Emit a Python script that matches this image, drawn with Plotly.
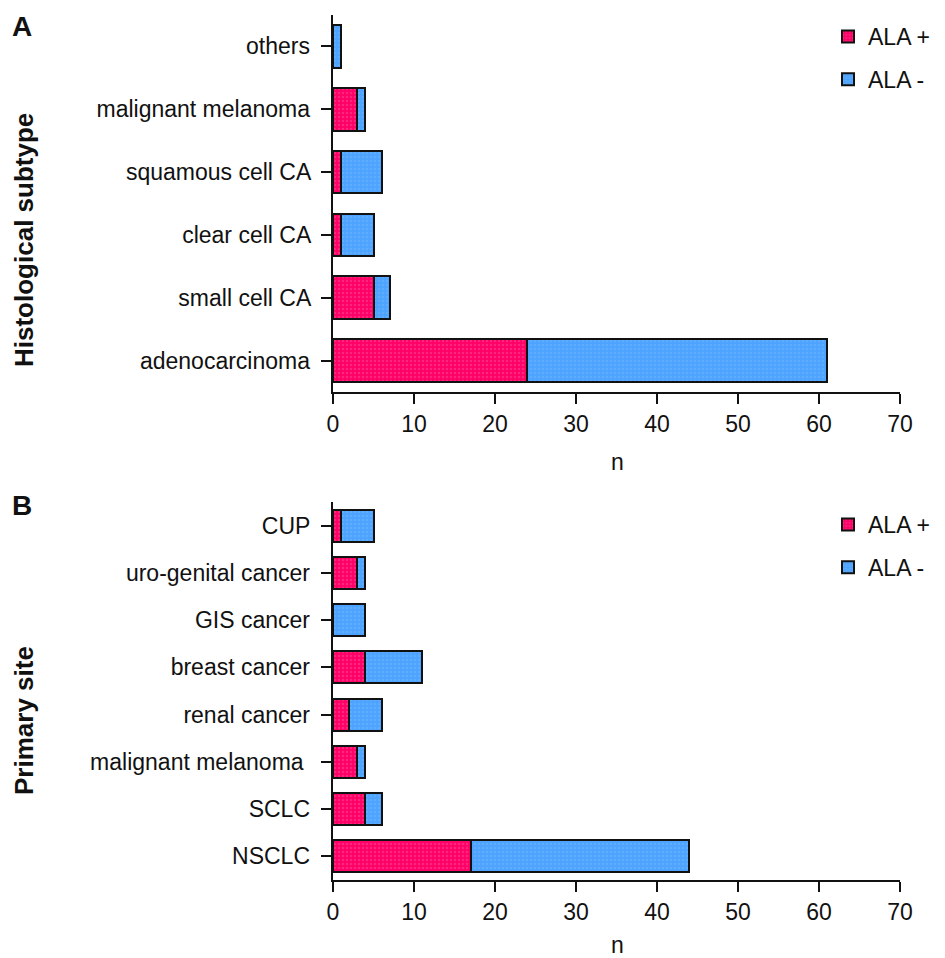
import plotly.graph_objects as go

# Panel A: histological subtype
cat_a = ["adenocarcinoma", "small cell CA", "clear cell CA", "squamous cell CA", "malignant melanoma", "others"]
pos_a = [24, 5, 1, 1, 3, 0]
neg_a = [37, 2, 4, 5, 1, 1]

# Panel B: primary site
cat_b = ["NSCLC", "SCLC", "malignant melanoma ", "renal cancer", "breast cancer", "GIS cancer", "uro-genital cancer", "CUP"]
pos_b = [17, 4, 3, 2, 4, 0, 3, 1]
neg_b = [27, 2, 1, 4, 7, 4, 1, 4]

x_ticks = [0, 10, 20, 30, 40, 50, 60, 70]

RED = "#FF0066"
BLUE = "#4DA3FF"
FONT = "Liberation Sans, Arial, sans-serif"

fig = go.Figure()

def add(cats, vals, name, color, fg, xa, ya, legend, group):
    fig.add_trace(go.Bar(
        y=cats, x=vals, name=name, orientation="h",
        marker=dict(color=color, line=dict(color="#111111", width=2),
                    pattern=dict(shape=".", fgcolor=fg, bgcolor=color, size=4, solidity=0.3)),
        xaxis=xa, yaxis=ya, legend=legend, legendgroup=group,
    ))

add(cat_a, pos_a, "ALA +", RED, "#FF4D94", "x", "y", "legend", "a1")
add(cat_a, neg_a, "ALA -", BLUE, "#6FB5FF", "x", "y", "legend", "a2")
add(cat_b, pos_b, "ALA +", RED, "#FF4D94", "x2", "y2", "legend2", "b1")
add(cat_b, neg_b, "ALA -", BLUE, "#6FB5FF", "x2", "y2", "legend2", "b2")

W, H = 945, 958
xdom = [333 / W, 900 / W]
ydom_a = [1 - 392 / H, 1 - 15 / H]
ydom_b = [1 - 880 / H, 1 - 502 / H]

xaxis_common = dict(
    range=[0, 70], tickvals=x_ticks, ticks="outside", ticklen=10, tickwidth=2,
    tickcolor="#111111", showline=True, linecolor="#111111", linewidth=2,
    showgrid=False, zeroline=False, tickfont=dict(size=23, color="#111111", family=FONT),
    domain=xdom, automargin=False,
)
yaxis_common = dict(
    ticks="outside", ticklen=10, tickwidth=2, tickcolor="#111111",
    showline=True, linecolor="#111111", linewidth=2, showgrid=False,
    tickfont=dict(size=23, color="#111111", family=FONT), ticksuffix=" ",
    automargin=False,
)

legend_common = dict(
    font=dict(size=23, family=FONT, color="#111111"), bgcolor="rgba(0,0,0,0)",
    traceorder="grouped", tracegroupgap=10, xanchor="left", yanchor="top",
)

fig.update_layout(
    width=W, height=H, barmode="stack", bargap=0.32,
    margin=dict(l=0, r=0, t=0, b=0, autoexpand=False),
    plot_bgcolor="white", paper_bgcolor="white",
    font=dict(family=FONT, color="#111111"),
    xaxis=dict(**xaxis_common, anchor="y"),
    xaxis2=dict(**xaxis_common, anchor="y2"),
    yaxis=dict(**yaxis_common, domain=ydom_a, anchor="x", range=[-0.5, 5.5]),
    yaxis2=dict(**yaxis_common, domain=ydom_b, anchor="x2", range=[-0.5, 7.5]),
    legend=dict(**legend_common, x=828 / W, y=1 - 15 / H),
    legend2=dict(**legend_common, x=828 / W, y=1 - 503 / H),
    annotations=[
        dict(text="<b>A</b>", x=10 / W, y=1 - 27 / H, xref="paper", yref="paper",
             xanchor="left", yanchor="middle", showarrow=False, font=dict(size=28)),
        dict(text="<b>B</b>", x=10 / W, y=1 - 505 / H, xref="paper", yref="paper",
             xanchor="left", yanchor="middle", showarrow=False, font=dict(size=28)),
        dict(text="<b>Histological subtype</b>", x=24 / W, y=1 - 240 / H, xref="paper", yref="paper",
             xanchor="center", yanchor="middle", showarrow=False, textangle=-90, font=dict(size=26)),
        dict(text="<b>Primary site</b>", x=24 / W, y=1 - 721 / H, xref="paper", yref="paper",
             xanchor="center", yanchor="middle", showarrow=False, textangle=-90, font=dict(size=26)),
        dict(text="n", x=617 / W, y=1 - 462 / H, xref="paper", yref="paper",
             xanchor="center", yanchor="middle", showarrow=False, font=dict(size=23)),
        dict(text="n", x=617 / W, y=1 - 945 / H, xref="paper", yref="paper",
             xanchor="center", yanchor="middle", showarrow=False, font=dict(size=23)),
    ],
)

fig.write_html("out.html")

# remove default page margins so the figure sits at the window's origin
with open("out.html", encoding="utf-8") as f:
    html = f.read()
html = html.replace("<head>", "<head><style>html,body{margin:0;padding:0;overflow:hidden;}</style>", 1)
with open("out.html", "w", encoding="utf-8") as f:
    f.write(html)
